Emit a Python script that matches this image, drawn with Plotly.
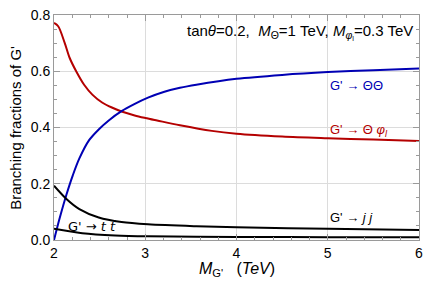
import plotly.graph_objects as go

x_red = [2, 2.046, 2.118, 2.171, 2.243, 2.33, 2.42, 2.527, 2.634, 2.741, 2.884, 3.0, 3.13, 3.38, 3.73, 4, 4.5, 5, 5.5, 6]
bf_theta_phi = [0.772, 0.760, 0.700, 0.648, 0.600, 0.552, 0.517, 0.489, 0.471, 0.457, 0.443, 0.434, 0.425, 0.408, 0.388, 0.378, 0.368, 0.362, 0.357, 0.352]

x_blue = [2, 2.064, 2.136, 2.206, 2.278, 2.385, 2.49, 2.6, 2.74, 2.88, 3.03, 3.21, 3.38, 3.56, 4, 4.5, 5, 5.5, 6]
bf_theta_theta = [0.0, 0.080, 0.161, 0.230, 0.290, 0.355, 0.393, 0.425, 0.458, 0.483, 0.506, 0.527, 0.541, 0.552, 0.573, 0.587, 0.597, 0.604, 0.61]

x_jj = [2, 2.136, 2.278, 2.49, 2.74, 3.03, 3.56, 4, 5, 6]
bf_jj = [0.193, 0.146, 0.110, 0.080, 0.064, 0.056, 0.049, 0.045, 0.040, 0.036]

x_tt = [2, 2.31, 2.67, 3.03, 3.56, 4, 5, 6]
bf_tt = [0.040, 0.024, 0.016, 0.013, 0.012, 0.011, 0.010, 0.010]

x_ticks = [2, 3, 4, 5, 6]
y_ticks = [0.0, 0.2, 0.4, 0.6, 0.8]

blue = 'rgb(0,0,180)'
red = 'rgb(180,0,0)'

fig = go.Figure()
for xs, ys, col in [(x_red, bf_theta_phi, red), (x_blue, bf_theta_theta, blue),
                    (x_jj, bf_jj, 'black'), (x_tt, bf_tt, 'black')]:
    fig.add_trace(go.Scatter(x=xs, y=ys, mode='lines',
                             line=dict(color=col, width=2, shape='spline', smoothing=0.9)))

axis_common = dict(showline=True, mirror='allticks', linecolor='#9a9a9a', linewidth=1,
                   ticks='inside', ticklen=6, tickcolor='#9a9a9a',
                   showgrid=True, gridcolor='#dcdcdc', gridwidth=1, zeroline=False,
                   ticklabeloverflow='allow', automargin=False,
                   tickfont=dict(size=14, color='black'))

fig.update_xaxes(range=[2, 6], tickvals=x_ticks, ticktext=[str(v) for v in x_ticks],
                 minor=dict(dtick=0.2, tick0=2, ticks='inside', ticklen=3, tickcolor='#9a9a9a', showgrid=False),
                 **axis_common)
fig.update_yaxes(range=[0, 0.8], tickvals=y_ticks, ticktext=[f'{v:.1f}' for v in y_ticks],
                 minor=dict(dtick=0.05, tick0=0, ticks='inside', ticklen=3, tickcolor='#9a9a9a', showgrid=False),
                 **axis_common)

# axis titles as annotations (page body has an 8px margin)
fig.add_annotation(xref='paper', yref='paper', x=0.5, y=-0.133, xanchor='center', yanchor='middle',
                   text="<i>M</i><sub>G'</sub>&nbsp;&nbsp;&nbsp;(<i>TeV</i>)", showarrow=False,
                   font=dict(size=16, color='black'))
fig.add_annotation(xref='paper', yref='paper', x=-0.106, y=0.5, xanchor='center', yanchor='middle',
                   text="Branching fractions of G'", textangle=-90, showarrow=False,
                   font=dict(size=15, color='black'))

fig.add_annotation(xref='paper', yref='paper', x=1, y=0.922, xanchor='right', yanchor='middle',
                   text="tan<i>θ</i>=0.2,&nbsp;&nbsp;<i>M</i><sub>Θ</sub>=1 TeV, <i>M</i><sub><i>φ</i><sub>l</sub></sub>=0.3 TeV",
                   showarrow=False, font=dict(size=15, color='black'), xshift=-4)
fig.add_annotation(x=5.0, y=0.548, xanchor='left', text="G' → ΘΘ", showarrow=False,
                   font=dict(size=13, color=blue))
fig.add_annotation(x=5.0, y=0.39, xanchor='left', text="G' → Θ <i>φ</i><sub><i>l</i></sub>", showarrow=False,
                   font=dict(size=13, color=red))
fig.add_annotation(x=5.0, y=0.08, xanchor='left', text="G' → <i>j j</i>", showarrow=False,
                   font=dict(size=13, color='black'))
fig.add_annotation(x=2.136, y=0.048, xanchor='left', text="G' → <i>t t̄</i>", showarrow=False,
                   font=dict(size=13, color='black', family='DejaVu Sans'))

fig.update_layout(width=416, height=274, template='simple_white', showlegend=False,
                  plot_bgcolor='white', paper_bgcolor='white',
                  font=dict(family='Liberation Sans, Arial', color='black'),
                  margin=dict(l=46, r=5, t=7, b=42))
fig.write_html("out.html")
